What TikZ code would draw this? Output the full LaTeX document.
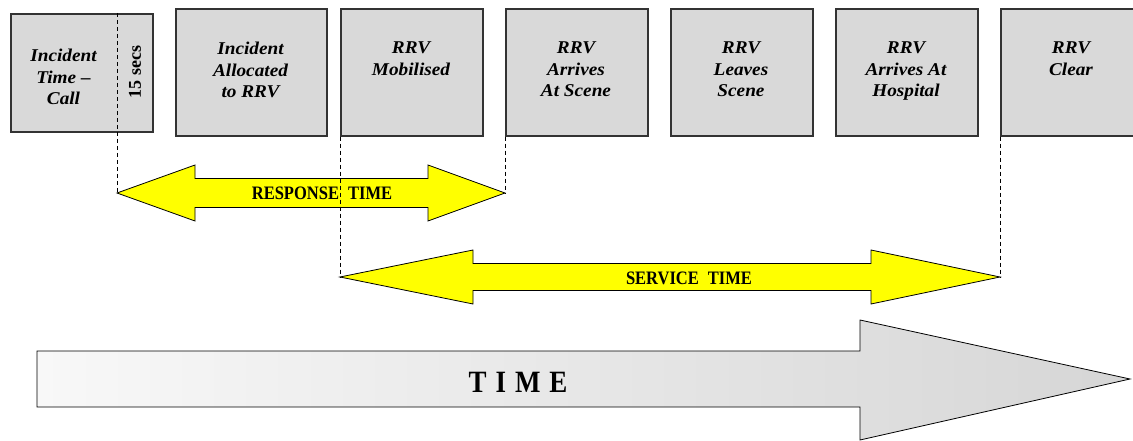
\documentclass[tikz,border=0pt]{standalone}
\usepackage{fontspec}
\setmainfont{Liberation Serif}
\newfontfamily\condfont[FakeStretch=0.87]{Liberation Serif}
\newfontfamily\widefont[FakeStretch=1.07]{Liberation Serif}
\definecolor{boxfill}{HTML}{D9D9D9}
\definecolor{boxline}{HTML}{333333}
\definecolor{spanyellow}{HTML}{FFFF00}
\definecolor{timeleft}{HTML}{F8F8F8}
\definecolor{timeright}{HTML}{D6D6D6}
\tikzset{
  evbox/.style={draw=boxline, fill=boxfill, line width=1.6pt,
    minimum width=142pt, minimum height=127pt, anchor=north west, inner sep=0pt},
  evtext/.style={font=\widefont\fontsize{18}{21.5}\selectfont\bfseries\itshape,
    align=center, anchor=north, inner sep=0pt},
  guide/.style={draw=black, dash pattern=on 4pt off 3pt, line width=0.8pt},
  spanarrow/.style={draw=black, line width=0.8pt, fill=spanyellow, line join=miter},
  spanlabel/.style={font=\condfont\bfseries\fontsize{19}{20}\selectfont, inner sep=0pt},
  timelabel/.style={font=\condfont\bfseries\fontsize{31}{32}\selectfont, inner sep=0pt},
}
\begin{document}
\begin{tikzpicture}[x=1pt, y=-1pt]
\clip (0,0) rectangle (1133,441);

% event boxes
\node[evbox, minimum height=118pt] (b1) at (10,13) {};
\node[evbox, minimum width=151pt] (b2) at (175,8) {};
\node[evbox] (b3) at (340,8) {};
\node[evbox] (b4) at (505,8) {};
\node[evbox] (b5) at (670,8) {};
\node[evbox] (b6) at (835,8) {};
\node[evbox] (b7) at (1000,8) {};

% box captions
\node[evtext] (t1) at (63.5,49) {Incident\\Time –\\Call};
\node[evtext] (t2) at (250.5,42) {Incident\\Allocated\\to RRV};
\node[evtext] (t3) at (411,42) {RRV\\Mobilised};
\node[evtext] (t4) at (576,42) {RRV\\Arrives\\At Scene};
\node[evtext] (t5) at (741,42) {RRV\\Leaves\\Scene};
\node[evtext] (t6) at (906,42) {RRV\\Arrives At\\Hospital};
\node[evtext] (t7) at (1071,42) {RRV\\Clear};
\node[rotate=90, font=\bfseries\fontsize{18}{18}\selectfont, inner sep=0pt] (s15) at (135,72) {15 secs};

% arrow tips of the two spans
\coordinate (rl) at (117,193);
\coordinate (rr) at (505,193);
\coordinate (sl) at (340,277);
\coordinate (sr) at (1000,277);

% response time span
\path[spanarrow] (rl) -- (195,165) -- (195,178.5) -- (428,178.5) -- (428,165) -- (rr)
  -- (428,221) -- (428,207.5) -- (195,207.5) -- (195,221) -- cycle;
\node[spanlabel] (resp) at (322,193) {RESPONSE\hspace{9pt}TIME};

% service time span
\path[spanarrow] (sl) -- (473,250) -- (473,263.5) -- (871,263.5) -- (871,250) -- (sr)
  -- (871,304) -- (871,290.5) -- (473,290.5) -- (473,304) -- cycle;
\node[spanlabel] (serv) at (689,278) {SERVICE\hspace{9pt}TIME};

% guide lines
\draw[guide] (rl |- b1.north) -- (rl);
\draw[guide] (b3.south west) -- (sl);
\draw[guide] (b4.south west) -- (rr);
\draw[guide] (b7.south west) -- (sr);

% time axis arrow
\path[draw=black, line width=0.8pt, left color=timeleft, right color=timeright]
  (37,351) -- (860,351) -- (860,320) -- (1130,379) -- (860,440) -- (860,407) -- (37,407) -- cycle;
\node[timelabel] (time) at (518,382) {T\hspace{9pt}I\hspace{9pt}M\hspace{9pt}E};
\end{tikzpicture}
\end{document}
